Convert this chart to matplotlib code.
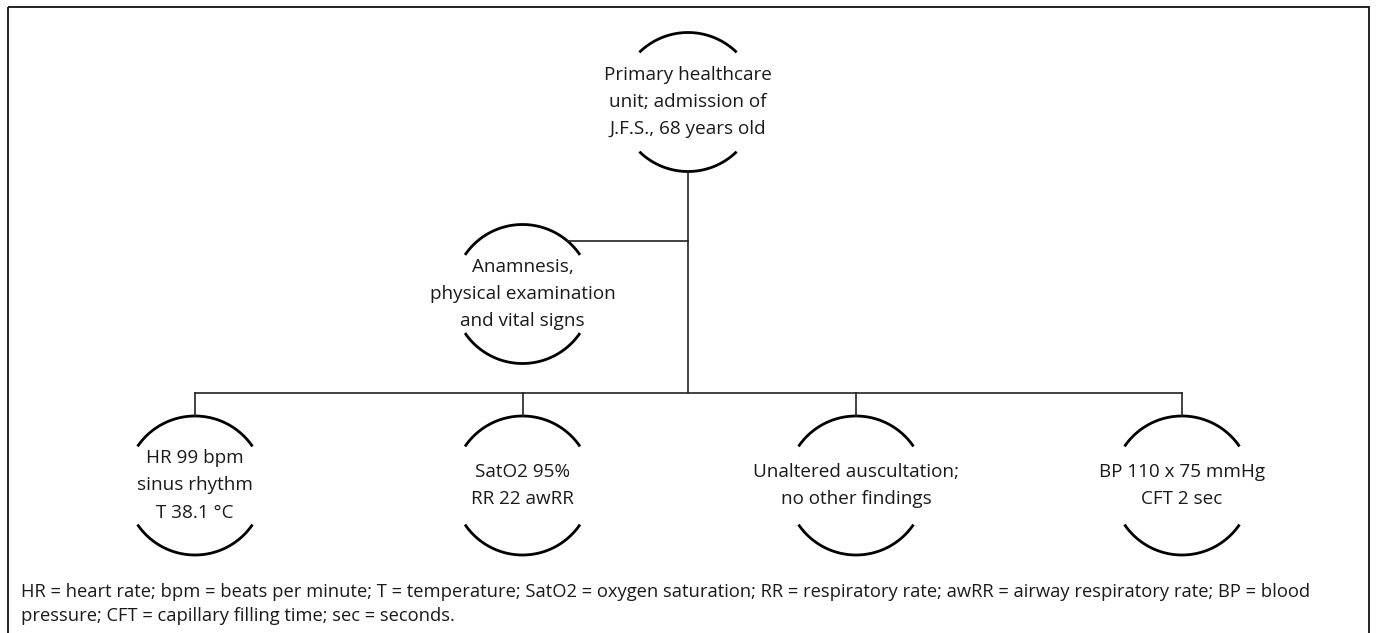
import numpy as np
import matplotlib
matplotlib.use("Agg")
import matplotlib.pyplot as plt
from matplotlib.patches import Rectangle

# node texts
root_label = "Primary healthcare\nunit; admission of\nJ.F.S., 68 years old"
exam_label = "Anamnesis,\nphysical examination\nand vital signs"
finding_labels = [
    "HR 99 bpm\nsinus rhythm\nT 38.1 °C",
    "SatO2 95%\nRR 22 awRR",
    "Unaltered auscultation;\nno other findings",
    "BP 110 x 75 mmHg\nCFT 2 sec",
]
footnote = ("HR = heart rate; bpm = beats per minute; T = temperature; SatO2 = oxygen saturation; "
            "RR = respiratory rate; awRR = airway respiratory rate; BP = blood\n"
            "pressure; CFT = capillary filling time; sec = seconds.")

# layout (pixels)
W, H = 1377, 633
R = 69.5
root_xy = (688, 102)
exam_xy = (522.5, 294)
finding_x = [195, 522.5, 856, 1182]
finding_y = 485.5
bus_y = 393

plt.rcParams['font.family'] = ['Open Sans', 'DejaVu Sans']

fig = plt.figure(figsize=(W / 100, H / 100), dpi=100)
ax = fig.add_axes([0, 0, 1, 1])
ax.set_xlim(0, W)
ax.set_ylim(H, 0)
ax.axis('off')

ax.add_patch(Rectangle((8, 7), 1361, 700, fill=False, lw=1.3, ec='#111111'))


def node(cx, cy, text, half=55.8):
    # circle drawn as top and bottom caps only
    t = np.radians(np.linspace(-half, half, 60))
    ax.plot(cx + R * np.sin(t), cy - R * np.cos(t), color='black', lw=2.0,
            solid_capstyle='butt')
    ax.plot(cx + R * np.sin(t), cy + R * np.cos(t), color='black', lw=2.0,
            solid_capstyle='butt')
    ax.text(cx, cy, text, ha='center', va='center', fontsize=13.6,
            linespacing=1.65, color='#1a1a1a')


node(*root_xy, root_label, half=44.4)
node(*exam_xy, exam_label)
for x, lab in zip(finding_x, finding_labels):
    node(x, finding_y, lab)

lc = dict(color='#222222', lw=1.2)
# trunk from root down to the bus
ax.plot([root_xy[0], root_xy[0]], [root_xy[1] + R, bus_y], **lc)
# branch to the examination node
ex_y = exam_xy[1] - 53.3
ex_x = exam_xy[0] + np.sqrt(R**2 - 53.3**2)
ax.plot([ex_x, root_xy[0]], [ex_y, ex_y], **lc)
# bus and drops
ax.plot([finding_x[0], finding_x[-1]], [bus_y, bus_y], **lc)
for x in finding_x:
    ax.plot([x, x], [bus_y, finding_y - R], **lc)

ax.text(21, 604, footnote, ha='left', va='center', fontsize=13.2,
        linespacing=1.45, color='#1a1a1a')

fig.savefig('out.png', dpi=100)
